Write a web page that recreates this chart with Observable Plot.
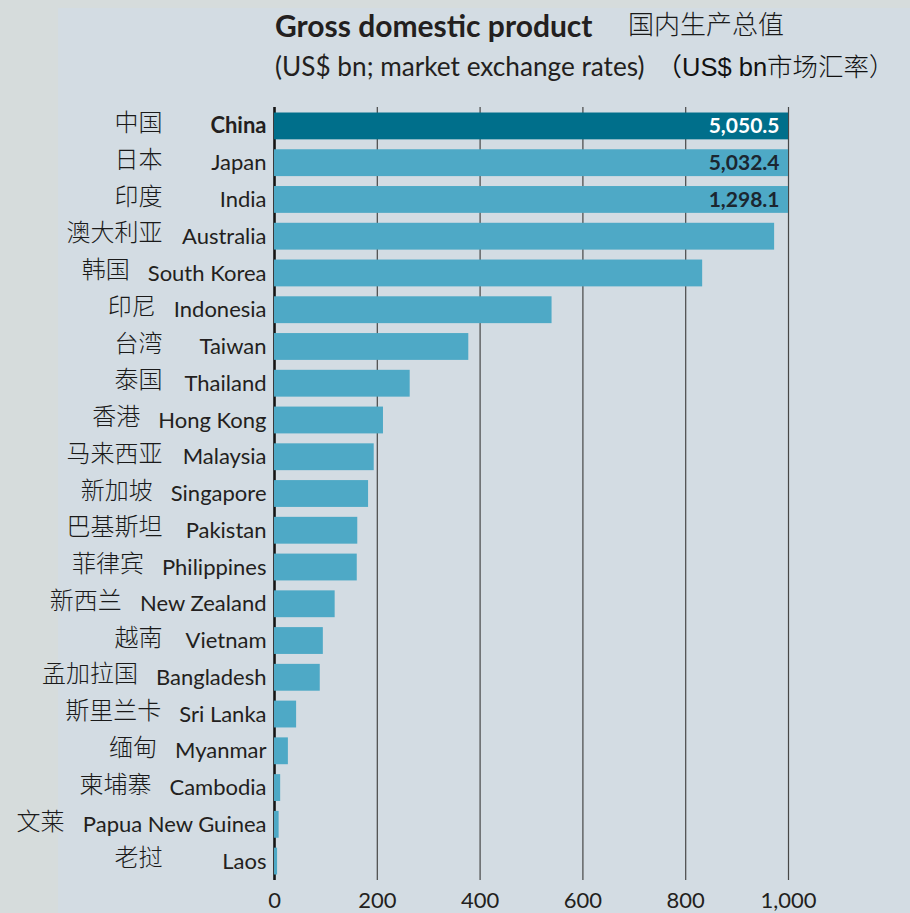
<!DOCTYPE html>
<html><head><meta charset="utf-8">
<script src="https://cdn.jsdelivr.net/npm/d3@7"></script>
<script src="https://cdn.jsdelivr.net/npm/@observablehq/plot@0.6"></script>
<style>
html,body{margin:0;padding:0;}
body{width:910px;height:913px;position:relative;overflow:hidden;background:#d6dcdc;}
#panel{position:absolute;left:58px;top:8px;right:0;bottom:0;background:#d3dce3;}
#chart{position:absolute;left:0;top:0;}
.txt{position:absolute;white-space:nowrap;line-height:1;color:#231f20;}
</style></head><body>
<div id="panel"></div>
<div id="chart"></div>
<div class="txt" style="left:275px;top:7px;font:700 30px Lato, sans-serif;">Gross domestic product</div>
<div class="txt" style="left:628px;top:4px;font:300 26px 'Noto Sans CJK SC', sans-serif;color:#1a1a1a;">国内生产总值</div>
<div class="txt" style="left:275px;top:46px;font:400 26.2px Lato, sans-serif;">(US$ bn; market exchange rates)<span style="margin-left:12px;font:400 25.5px 'Liberation Sans','Noto Sans CJK SC',sans-serif;color:#111;">（US$ bn<span style="font-family:'Noto Sans CJK SC';font-weight:300;">市场汇率）</span></span></div>
<script>
const countries = ["China","Japan","India","Australia","South Korea","Indonesia","Taiwan","Thailand","Hong Kong","Malaysia","Singapore","Pakistan","Philippines","New Zealand","Vietnam","Bangladesh","Sri Lanka","Myanmar","Cambodia","Papua New Guinea","Laos"];
const chineseNames = ["中国","日本","印度","澳大利亚","韩国","印尼","台湾","泰国","香港","马来西亚","新加坡","巴基斯坦","菲律宾","新西兰","越南","孟加拉国","斯里兰卡","缅甸","柬埔寨","文莱","老挝"];
const gdp = [5050.5, 5032.4, 1298.1, 973, 833, 540, 378, 264, 212, 194, 183, 162, 161, 118, 95, 89, 43, 27, 12, 9, 6];
const xTicks = [0, 200, 400, 600, 800, 1000];
const axisMax = 1000;

const data = countries.map((c, i) => ({country: c, zh: chineseNames[i], gdp: gdp[i]}));
const dark = "#006f8b", light = "#4ea9c6";
const labelSize = 22, labelPad = 8;

// measure English labels so the Chinese names sit clear to their left
const ctx = document.createElement("canvas").getContext("2d");
function labelWidth(d) {
  ctx.font = (d.country === "China" ? "bold " : "") + labelSize + "px Lato";
  return ctx.measureText(d.country).width;
}
const zhMarks = data.map(d => Plot.text([d], {
  y: "country", text: "zh", frameAnchor: "left", textAnchor: "end",
  dx: Math.min(-112, -labelPad - labelWidth(d) - 18), dy: -3,
  fontFamily: "'Noto Sans CJK SC', sans-serif", fontSize: 24, fontWeight: 300, fill: "#1a1a1a"
}));

const chart = Plot.plot({
  width: 910, height: 913,
  marginLeft: 274, marginRight: 122, marginTop: 107, marginBottom: 33,
  style: {background: "transparent", fontFamily: "Lato, sans-serif", color: "#231f20"},
  x: {domain: [0, axisMax], clamp: true, axis: null},
  y: {domain: countries, paddingInner: 0.27, paddingOuter: 0.15, round: false, axis: null},
  color: {type: "identity"},
  marks: [
    Plot.ruleX(xTicks.slice(1), {stroke: "#474747", strokeWidth: 1.2}),
    Plot.ruleX([0], {stroke: "#151515", strokeWidth: 2.6}),
    Plot.barX(data, {y: "country", x: "gdp", fill: d => d.country === "China" ? dark : light}),
    Plot.text(data.filter(d => d.gdp > axisMax), {
      y: "country", x: axisMax, text: d => d3.format(",.1f")(d.gdp),
      textAnchor: "end", dx: -9, fontSize: 21, fontWeight: "bold",
      fill: d => d.country === "China" ? "#ffffff" : "#1b2630"
    }),
    Plot.text(data.filter(d => d.country !== "China"), {
      y: "country", text: "country", frameAnchor: "left", textAnchor: "end", dx: -labelPad, fontSize: labelSize, fill: "#231f20"
    }),
    Plot.text(data.filter(d => d.country === "China"), {
      y: "country", text: "country", frameAnchor: "left", textAnchor: "end", dx: -labelPad, fontSize: labelSize, fontWeight: "bold", fill: "#231f20"
    }),
    ...zhMarks,
    Plot.axisX(xTicks, {label: null, tickSize: 0, tickPadding: 12, fontSize: 22, tickFormat: d3.format(","), fill: "#231f20"})
  ]
});
document.getElementById("chart").appendChild(chart);
</script>
</body></html>
